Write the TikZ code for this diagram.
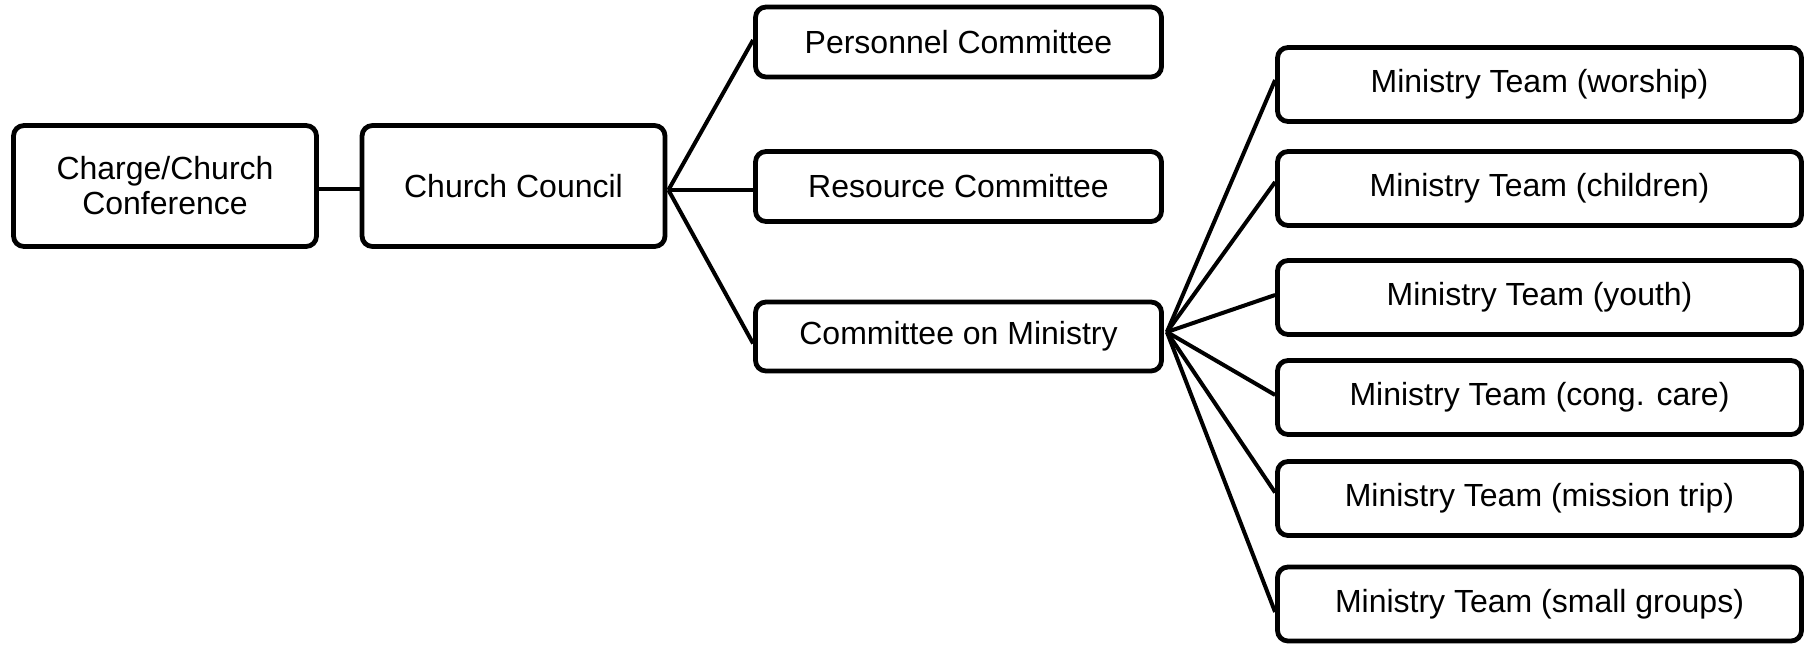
\documentclass[tikz,border=0pt]{standalone}
\usepackage{fontspec}
\setmainfont{Liberation Sans}
\usetikzlibrary{calc}
\begin{document}
\begin{tikzpicture}[x=1pt,y=-1pt,
  box/.style={draw=black, line width=4.8pt, rounded corners=10.5pt, fill=white,
    inner sep=0pt, align=center, font=\fontsize{32}{35}\selectfont},
  bigbox/.style={box, minimum width=303pt, minimum height=121pt},
  midbox/.style={box, minimum width=406pt, minimum height=70pt},
  teambox/.style={box, minimum width=524pt, minimum height=74pt},
  link/.style={draw=black, line width=4pt}]
\useasboundingbox[fill=white] (0,0) rectangle (1804,645);
\node[bigbox] (charge) at (165,186) {Charge/Church\\Conference};
\node[bigbox] (council) at (513.5,186) {Church Council};
\node[midbox] (pers) at (958.5,42) {Personnel Committee};
\node[midbox] (res) at (958.5,186.5) {Resource Committee};
\node[midbox, minimum height=69pt] (com) at (958.5,336.5) {Committee on Ministry};
\node[teambox] (t1) at (1539.5,84.5) {Ministry Team (worship)};
\node[teambox] (t2) at (1539.5,188.5) {Ministry Team (children)};
\node[teambox] (t3) at (1539.5,297.5) {Ministry Team (youth)};
\node[teambox] (t4) at (1539.5,397.5) {Ministry Team (cong. care)};
\node[teambox] (t5) at (1539.5,498.5) {Ministry Team (mission trip)};
\node[teambox] (t6) at (1539.5,604) {Ministry Team (small groups)};
\coordinate (cc) at ($(council.east)+(1,4)$);
\coordinate (cm) at ($(com.east)+(3,-4.5)$);
\draw[link] ($(charge.east)+(0,3)$) -- ($(council.west)+(0,3)$);
\draw[link] (cc) -- ($(pers.west)+(0,-2)$);
\draw[link] (cc) -- ($(res.west)+(0,3.5)$);
\draw[link] (cc) -- ($(com.west)+(0,7)$);
\draw[link] (cm) -- ($(t1.west)+(0,-4.5)$);
\draw[link] (cm) -- ($(t2.west)+(0,-6.5)$);
\draw[link] (cm) -- ($(t3.west)+(0,-2.5)$);
\draw[link] (cm) -- ($(t4.west)+(0,-2.5)$);
\draw[link] (cm) -- ($(t5.west)+(0,-6)$);
\draw[link] (cm) -- ($(t6.west)+(0,8)$);
\end{tikzpicture}
\end{document}
